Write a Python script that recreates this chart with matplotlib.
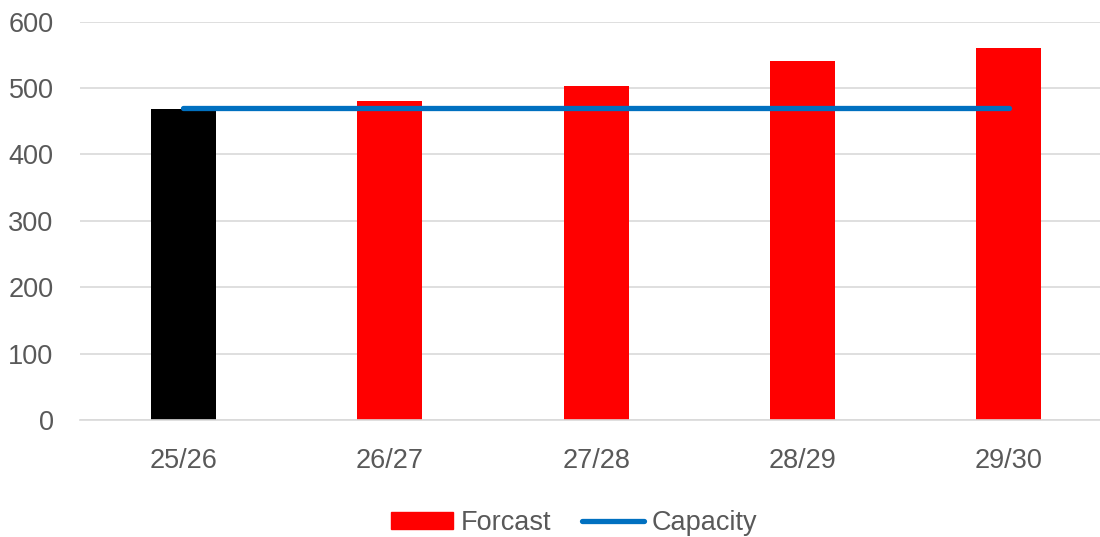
import matplotlib.pyplot as plt
from matplotlib.patches import Patch
from matplotlib.lines import Line2D

years = ['25/26', '26/27', '27/28', '28/29', '29/30']
forcast = [468, 481, 503, 540, 560]
bar_colors = ['black', 'red', 'red', 'red', 'red']
capacity = [470, 470, 470, 470, 470]

plt.rcParams['font.family'] = ['Liberation Sans', 'DejaVu Sans']
grey = '#595959'

fig = plt.figure(figsize=(11, 5.37), dpi=100)
ax = fig.add_axes([80/1100, 117/537, 1020/1100, 398.5/537])

x = list(range(len(years)))
ax.bar(x, forcast, width=0.315, color=bar_colors, zorder=2)
ax.plot(x, capacity, color='#0070C0', linewidth=3.8, solid_capstyle='round', zorder=3)

ax.set_xlim(-0.5, 4 + (1100 - 1009) / 206.4)
ax.set_ylim(0, 600)
ax.set_yticks(range(0, 601, 100))
ax.set_xticks(x)
ax.set_xticklabels(years)
ax.grid(axis='y', color='#d9d9d9', linewidth=1.2, zorder=0)
for s in ['top', 'right', 'left']:
    ax.spines[s].set_visible(False)
ax.spines['bottom'].set_color('#d9d9d9')
ax.spines['bottom'].set_linewidth(1.2)
ax.tick_params(axis='both', length=0, labelsize=19.5, labelcolor=grey)
ax.tick_params(axis='y', pad=19)
ax.tick_params(axis='x', pad=20)

handles = [Patch(color='red', label='Forcast'),
           Line2D([], [], color='#0070C0', linewidth=3.8, solid_capstyle='round', label='Capacity')]
leg = fig.legend(handles=handles, loc='center', bbox_to_anchor=(0.522, 0.026), ncol=2,
                 frameon=False, fontsize=19.5, handlelength=2.3, handleheight=0.6,
                 handletextpad=0.3, columnspacing=1.1)
for t in leg.get_texts():
    t.set_color(grey)

fig.savefig('out.png', dpi=100)
